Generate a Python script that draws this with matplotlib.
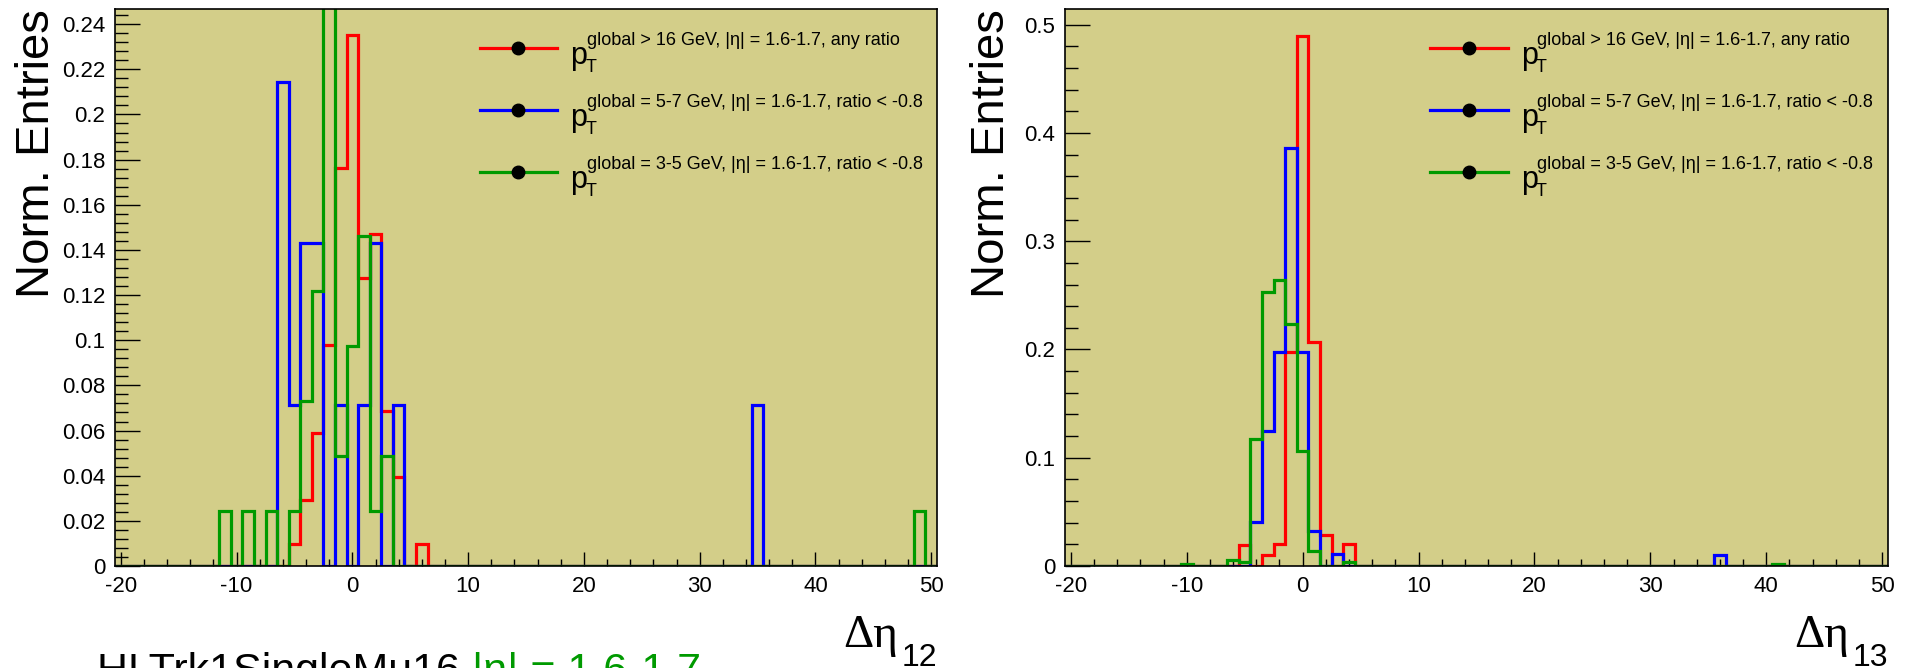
import numpy as np
import matplotlib.pyplot as plt
from matplotlib.ticker import MultipleLocator, FormatStrFormatter

plt.rcParams['font.family'] = ['Liberation Sans', 'DejaVu Sans']

# bins of width 1 centred on integers
edges = np.arange(-20.5, 51.5, 1.0)

# delta eta 12 (left)
red12_x = [-5, -4, -3, -2, -1, 0, 1, 2, 3, 4, 6]
red12_y = [0.0098, 0.0294, 0.0588, 0.098, 0.1765, 0.2353, 0.1275, 0.1471, 0.0686, 0.0392, 0.0098]
blue12_x = [-6, -5, -4, -3, -1, 1, 2, 4, 35]
blue12_y = [0.2143, 0.0714, 0.1429, 0.1429, 0.0714, 0.0714, 0.1429, 0.0714, 0.0714]
green12_x = [-11, -9, -7, -5, -4, -3, -2, -1, 0, 1, 2, 3, 49]
green12_y = [0.0244, 0.0244, 0.0244, 0.0244, 0.0732, 0.122, 0.317, 0.0488, 0.0976, 0.1463, 0.0244, 0.0488, 0.0244]

# delta eta 13 (right)
red13_x = [-5, -3, -2, -1, 0, 1, 2, 4]
red13_y = [0.019, 0.010, 0.020, 0.198, 0.490, 0.207, 0.029, 0.020]
blue13_x = [-4, -3, -2, -1, 0, 1, 3, 36]
blue13_y = [0.041, 0.125, 0.198, 0.386, 0.198, 0.032, 0.011, 0.010]
green13_x = [-10, -6, -5, -4, -3, -2, -1, 0, 1, 4, 41]
green13_y = [0.002, 0.006, 0.004, 0.117, 0.253, 0.264, 0.224, 0.106, 0.014, 0.004, 0.0015]

colores = ['#ff0000', '#0000ff', '#009a00']
leyenda = ['global > 16 GeV, |\u03b7| = 1.6-1.7, any ratio',
           'global = 5-7 GeV, |\u03b7| = 1.6-1.7, ratio < -0.8',
           'global = 3-5 GeV, |\u03b7| = 1.6-1.7, ratio < -0.8']

fondo = '#d3ce89'

fig = plt.figure(figsize=(19.08, 6.68), dpi=100)
ax1 = fig.add_axes([0.0603, 0.1527, 0.4308, 0.8338])
ax2 = fig.add_axes([0.5582, 0.1527, 0.4313, 0.8338])


def panel(ax, series, ymax, ymajor, sub, ylab_x):
    ax.set_facecolor(fondo)
    for (xs, ys), c in zip(series, colores):
        ax.hist(xs, bins=edges, weights=ys, histtype='step', color=c, lw=2.3)
    ax.set_xlim(-20.5, 50.5)
    ax.set_ylim(0, ymax)
    ax.xaxis.set_major_locator(MultipleLocator(10))
    ax.xaxis.set_minor_locator(MultipleLocator(2))
    ax.yaxis.set_major_locator(MultipleLocator(ymajor))
    ax.yaxis.set_minor_locator(MultipleLocator(ymajor / 5))
    ax.xaxis.set_major_formatter(FormatStrFormatter('%g'))
    ax.yaxis.set_major_formatter(FormatStrFormatter('%g'))
    ax.tick_params(axis='both', which='both', direction='in', top=False, right=False, width=1.0)
    ax.tick_params(axis='y', which='major', length=18, labelsize=16, pad=7)
    ax.tick_params(axis='y', which='minor', length=9)
    ax.tick_params(axis='x', which='major', length=10, labelsize=16, pad=7)
    ax.tick_params(axis='x', which='minor', length=5)
    for s in ax.spines.values():
        s.set_linewidth(1.2)
    ax.set_ylabel('Norm. Entries', fontsize=34, loc='top')
    ax.yaxis.set_label_coords(ylab_x, 1.0)

    # titulo del eje x: delta eta con subindice
    ax.text(0.953, -0.1454, '\u0394\u03b7', transform=ax.transAxes, ha='right', va='baseline',
            fontsize=34, family='Liberation Serif')
    ax.text(1.0, -0.179, sub, transform=ax.transAxes, ha='right', va='baseline', fontsize=23)

    # leyenda
    for i, (c, t) in enumerate(zip(colores, leyenda)):
        y = 0.930 - i * 0.1115
        ax.plot([0.444, 0.538], [y, y], transform=ax.transAxes, color=c, lw=2.3)
        ax.plot([0.4903], [y], 'o', color='k', ms=9, transform=ax.transAxes)
        ax.text(0.554, y - 0.028, 'p', transform=ax.transAxes, fontsize=22, va='baseline')
        ax.text(0.572, y - 0.043, 'T', transform=ax.transAxes, fontsize=13, va='baseline')
        ax.text(0.574, y + 0.006, t, transform=ax.transAxes, fontsize=13, va='baseline')


panel(ax1, [(red12_x, red12_y), (blue12_x, blue12_y), (green12_x, green12_y)],
      0.2467, 0.02, '12', -0.068)
panel(ax2, [(red13_x, red13_y), (blue13_x, blue13_y), (green13_x, green13_y)],
      0.5145, 0.1, '13', -0.062)

t1 = fig.text(97 / 1908, 1 - 652 / 668, 'HLTrk1SingleMu16 ', fontsize=31, va='top')
plt.annotate('|\u03b7| = 1.6-1.7', xy=(1, 1), xycoords=t1, fontsize=31,
             va='top', ha='left', color='#009a00')

fig.savefig('out.png', dpi=100)
